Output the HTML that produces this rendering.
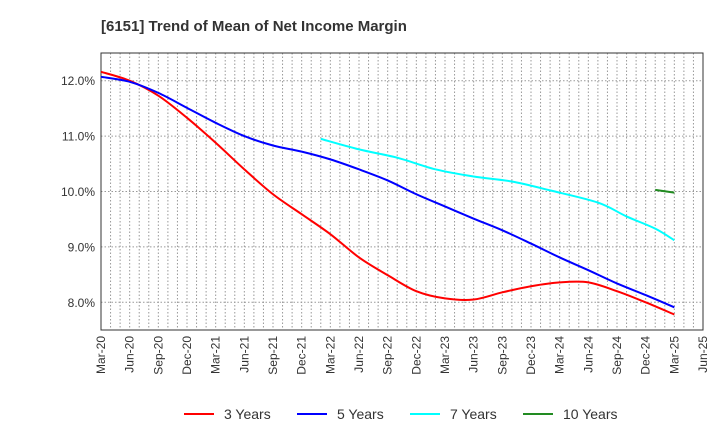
<!DOCTYPE html>
<html><head><meta charset="utf-8"><style>
body{margin:0;background:#fff;font-family:"Liberation Sans",Arial,sans-serif}
svg text{font-family:"Liberation Sans",Arial,sans-serif}
</style></head><body>
<svg id="c" width="720" height="440" xmlns="http://www.w3.org/2000/svg">
<text x="101" y="31" font-size="15" font-weight="bold" fill="#333">[6151]  Trend of Mean of Net Income Margin</text>
<g id="grid"></g>
<g id="axes"></g>
<g id="series"></g>
<g id="legend"></g>
</svg>
<script>
const xLabels=["Mar-20","Jun-20","Sep-20","Dec-20","Mar-21","Jun-21","Sep-21","Dec-21","Mar-22","Jun-22","Sep-22","Dec-22","Mar-23","Jun-23","Sep-23","Dec-23","Mar-24","Jun-24","Sep-24","Dec-24","Mar-25","Jun-25"];
const yTicks=[8,9,10,11,12];
// months since Mar-20
const m3=[0,3,6,9,12,15,18,21,24,27,30,33,36,39,42,45,48,51,54,57,60];
const s3=[12.16,12.0,11.73,11.33,10.88,10.4,9.95,9.59,9.23,8.81,8.49,8.2,8.07,8.05,8.18,8.29,8.36,8.36,8.2,8.0,7.78];
const m5=[0,3,6,9,12,15,18,21,24,27,30,33,36,39,42,45,48,51,54,57,60];
const s5=[12.07,11.98,11.78,11.51,11.24,11.0,10.83,10.72,10.58,10.4,10.2,9.95,9.73,9.51,9.3,9.06,8.81,8.58,8.34,8.13,7.91];
const m7=[23,27,31,35,39,43,47,52,55,58,60];
const s7=[10.95,10.76,10.61,10.40,10.27,10.18,10.02,9.80,9.55,9.33,9.12];
const m10=[58,60];
const s10=[10.03,9.98];
const seriesNames=["3 Years","5 Years","7 Years","10 Years"];
const colors=["#ff0000","#0000ff","#00ffff","#228b22"];
const L=101,R=703,T=53,B=330,yMin=7.5,yMax=12.5;
const totalMonths=(xLabels.length-1)*3;
const Xm=m=>L+(R-L)*m/totalMonths;
const Y=v=>B-(v-yMin)/(yMax-yMin)*(B-T);
const NS="http://www.w3.org/2000/svg";
function mk(tag,attrs,parent,txt){const e=document.createElementNS(NS,tag);for(const k in attrs)e.setAttribute(k,attrs[k]);if(txt!=null)e.textContent=txt;document.getElementById(parent).appendChild(e);return e;}
for(let m=1;m<totalMonths;m++){const x=Xm(m);
const g=mk('line',{x1:x,x2:x,y1:T,y2:B,stroke:'#999','stroke-width':1,'stroke-dasharray':'1.5,2'},'grid');

}
yTicks.forEach(v=>{const y=Y(v);
const g=mk('line',{x1:L,x2:R,y1:y,y2:y,stroke:'#999','stroke-width':1,'stroke-dasharray':'1.5,2'},'grid');


const t=mk('text',{x:L-6,y:y+4.5,'text-anchor':'end','font-size':12,fill:'#333'},'axes',v.toFixed(1)+'%');

});
xLabels.forEach((l,i)=>{const x=Xm(i*3);
const t=mk('text',{transform:`translate(${x+4},${B+6}) rotate(-90)`,'text-anchor':'end','font-size':12,fill:'#333'},'axes',l);

});
const fr=mk('rect',{x:L,y:T,width:R-L,height:B-T,fill:'none',stroke:'#333','stroke-width':1},'axes');


function path(ms,arr){const pts=arr.map((v,i)=>[Xm(ms[i]),Y(v)]);
if(pts.length<2)return '';let d=`M${pts[0][0]},${pts[0][1]}`;
for(let i=0;i<pts.length-1;i++){const p0=pts[i-1]||pts[i],p1=pts[i],p2=pts[i+1],p3=pts[i+2]||p2;
const c1=[p1[0]+(p2[0]-p0[0])/6,p1[1]+(p2[1]-p0[1])/6],c2=[p2[0]-(p3[0]-p1[0])/6,p2[1]-(p3[1]-p1[1])/6];
d+=` C${c1[0]},${c1[1]} ${c2[0]},${c2[1]} ${p2[0]},${p2[1]}`;}return d;}
[[m3,s3],[m5,s5],[m7,s7],[m10,s10]].forEach((s,k)=>{const p=mk('path',{d:path(s[0],s[1]),fill:'none',stroke:colors[k],'stroke-width':2},'series');

});
const lx=[184,297,410,523];
seriesNames.forEach((n,k)=>{
const l=mk('line',{x1:lx[k],x2:lx[k]+30,y1:414,y2:414,stroke:colors[k],'stroke-width':2},'legend');


const t=mk('text',{x:lx[k]+40,y:419,'font-size':14,fill:'#333'},'legend',n);

});
</script>
</body></html>
